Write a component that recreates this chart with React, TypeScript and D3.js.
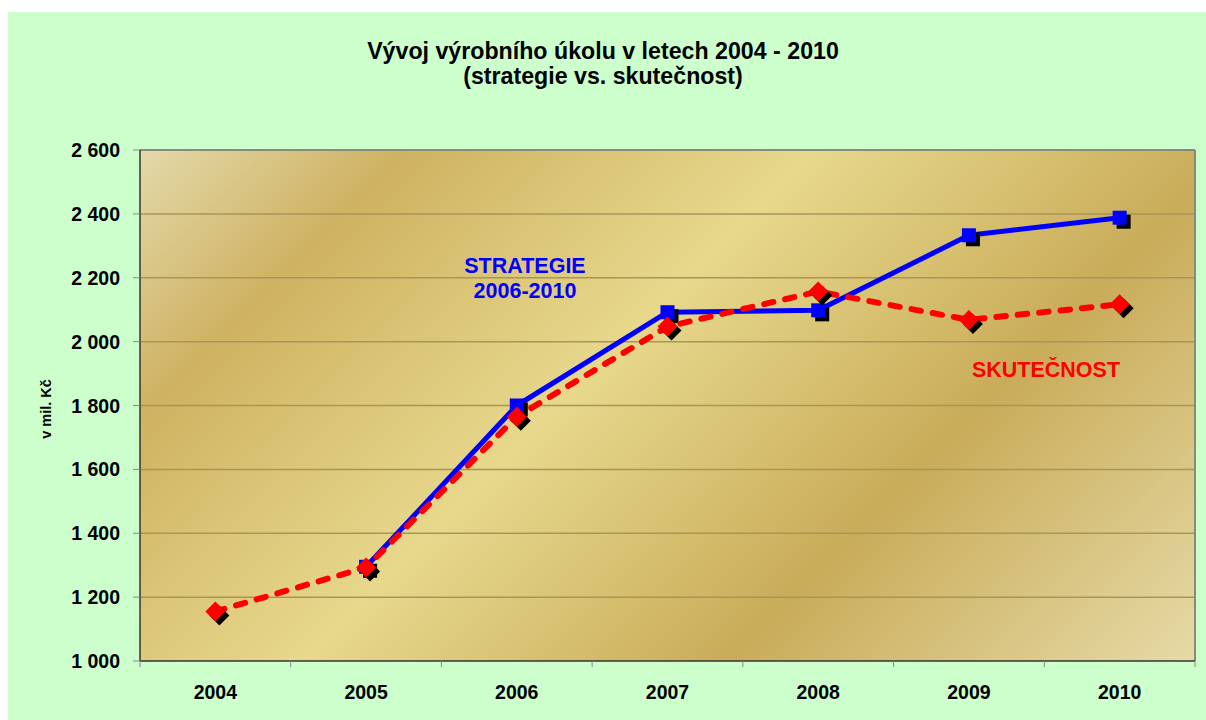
import React from "react";
import * as d3 from "d3";

const categories = ["2004", "2005", "2006", "2007", "2008", "2009", "2010"];
const strategie: (number | null)[] = [null, 1295, 1800, 2092, 2098, 2333, 2388];
const skutecnost: number[] = [1155, 1293, 1765, 2047, 2157, 2068, 2117];
const yTicks = [1000, 1200, 1400, 1600, 1800, 2000, 2200, 2400, 2600];
const titleLines = ["Vývoj výrobního úkolu v letech 2004 - 2010", "(strategie vs. skutečnost)"];

const W = 1206;
const H = 720;
const left = 140;
const right = 1195;
const top = 150;
const bottom = 661;
const font = "'Liberation Sans', Arial, sans-serif";

export default function App() {
  const x = d3.scaleBand<string>().domain(categories).range([left, right]);
  const y = d3.scaleLinear().domain([1000, 2600]).range([bottom, top]);
  const cx = (c: string) => (x(c) as number) + x.bandwidth() / 2;
  const fmt = (v: number) => d3.format(",")(v).replace(/,/g, " ");

  const blueLine = d3
    .line<number | null>()
    .defined((d) => d !== null)
    .x((_, i) => cx(categories[i]))
    .y((d) => y(d as number));
  const redLine = d3
    .line<number>()
    .x((_, i) => cx(categories[i]))
    .y((d) => y(d));

  const sq = 7;
  const dm = 10;
  const sh = 4;

  return (
    <svg width={W} height={H} style={{ position: "absolute", left: 0, top: 0 }}>
      <defs>
        <linearGradient id="gold" gradientUnits="userSpaceOnUse" x1={left} y1={top} x2={left + 783} y2={top + 783}>
          <stop offset="0" stopColor="#e3d9aa" />
          <stop offset="0.17" stopColor="#cfb262" />
          <stop offset="0.43" stopColor="#e7d88c" />
          <stop offset="0.7" stopColor="#c9ac5a" />
          <stop offset="1" stopColor="#e6daa6" />
        </linearGradient>
      </defs>
      <rect x={8} y={12} width={W - 8} height={H - 12} fill="#ccffcc" />
      {titleLines.map((t, i) => (
        <text key={i} x={603} y={59 + i * 25} textAnchor="middle" fontFamily={font} fontWeight="bold" fontSize={23.2} fill="#000">
          {t}
        </text>
      ))}
      <rect x={left} y={top} width={right - left} height={bottom - top} fill="url(#gold)" />
      {yTicks.slice(1, -1).map((t) => (
        <line key={t} x1={left} x2={right} y1={y(t)} y2={y(t)} stroke="#a8955a" strokeWidth={1.5} />
      ))}
      {/* border */}
      <line x1={left} x2={right} y1={top} y2={top} stroke="#8a8a7a" strokeWidth={2} />
      <line x1={right} x2={right} y1={top} y2={bottom} stroke="#8a8a7a" strokeWidth={2} />
      <line x1={left} x2={left} y1={top} y2={bottom} stroke="#333" strokeWidth={1.5} />
      <line x1={left} x2={right} y1={bottom} y2={bottom} stroke="#333" strokeWidth={1.5} />
      {yTicks.map((t) => (
        <g key={t}>
          <line x1={left - 7} x2={left} y1={y(t)} y2={y(t)} stroke="#888" strokeWidth={1} />
          <text x={120} y={y(t) + 7} textAnchor="end" fontFamily={font} fontWeight="bold" fontSize={19.5} fill="#000">
            {fmt(t)}
          </text>
        </g>
      ))}
      {categories.map((c, i) => (
        <g key={c}>
          <line x1={(x(c) as number)} x2={(x(c) as number)} y1={bottom} y2={bottom + 6} stroke="#888" strokeWidth={1} />
          {i === categories.length - 1 && (
            <line x1={right} x2={right} y1={bottom} y2={bottom + 6} stroke="#888" strokeWidth={1} />
          )}
          <text x={cx(c)} y={699} textAnchor="middle" fontFamily={font} fontWeight="bold" fontSize={19.5} fill="#000">
            {c}
          </text>
        </g>
      ))}
      <text
        transform={`translate(51,409) rotate(-90)`}
        textAnchor="middle"
        fontFamily={font}
        fontWeight="bold"
        fontSize={14.5}
        fill="#000"
      >
        v mil. Kč
      </text>

      {/* blue series */}
      <path d={blueLine(strategie) || ""} fill="none" stroke="#0000ff" strokeWidth={5} strokeLinejoin="round" />
      {strategie.map((v, i) =>
        v === null ? null : (
          <g key={"b" + i}>
            <rect x={cx(categories[i]) - sq + sh} y={y(v) - sq + sh} width={sq * 2} height={sq * 2} fill="#000" />
            <rect x={cx(categories[i]) - sq} y={y(v) - sq} width={sq * 2} height={sq * 2} fill="#0000ff" />
          </g>
        )
      )}

      {/* red series */}
      <path
        d={redLine(skutecnost) || ""}
        fill="none"
        stroke="#ff0000"
        strokeWidth={6}
        strokeDasharray="9.5 12"
        strokeLinecap="round"
      />
      {skutecnost.map((v, i) => {
        const px = cx(categories[i]);
        const py = y(v);
        const d = (ox: number, oy: number) =>
          `M${px + ox},${py + oy - dm}L${px + ox + dm},${py + oy}L${px + ox},${py + oy + dm}L${px + ox - dm},${py + oy}Z`;
        return (
          <g key={"r" + i}>
            <path d={d(sh, sh)} fill="#000" />
            <path d={d(0, 0)} fill="#ff0000" />
          </g>
        );
      })}

      <text x={525} y={273} textAnchor="middle" fontFamily={font} fontWeight="bold" fontSize={21.5} fill="#0000ff">
        STRATEGIE
      </text>
      <text x={525} y={298} textAnchor="middle" fontFamily={font} fontWeight="bold" fontSize={21.5} fill="#0000ff">
        2006-2010
      </text>
      <text x={1046} y={377} textAnchor="middle" fontFamily={font} fontWeight="bold" fontSize={21.5} fill="#ff0000">
        SKUTEČNOST
      </text>
    </svg>
  );
}
